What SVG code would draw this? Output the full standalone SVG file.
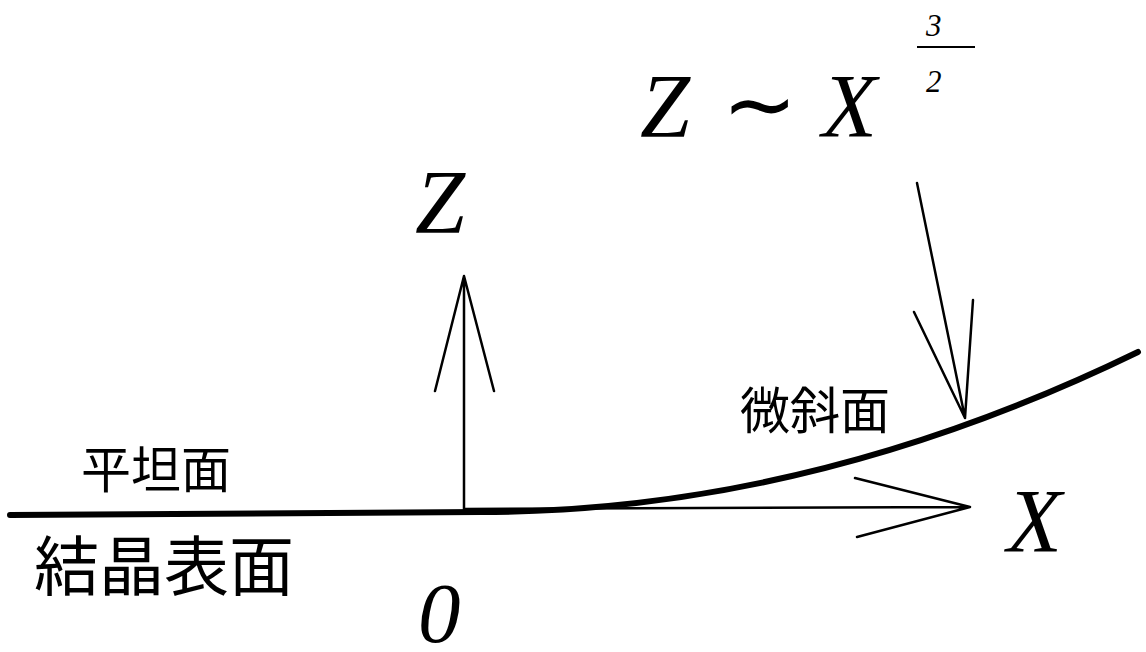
<svg xmlns="http://www.w3.org/2000/svg" width="1146" height="652" viewBox="0 0 1146 652">
<style>
.m{font-family:"Liberation Serif","Times New Roman",serif;font-style:italic;fill:#000}
.j{font-family:"Noto Sans CJK JP","Noto Sans CJK SC",sans-serif;fill:#000}
.ln{stroke:#000;fill:none;stroke-linecap:round;stroke-linejoin:round}
</style>
<rect width="1146" height="652" fill="#fff"/>
<g id="connectors">
<path id="x-axis" class="ln" stroke-width="2.5" d="M465,509 L970,507 M855,478 L970,507 L857,537"/>
<path id="z-axis" class="ln" stroke-width="2.5" d="M464,512 L464,276 M435,391 L464,276 L494,391"/>
<path id="pointer" class="ln" stroke-width="2.5" d="M917,183 L965,418 M914,312 L965,418 L973,300"/>
</g>
<g id="surface">
<path class="ln" stroke-width="6" stroke-linecap="butt" d="M10,515 L480,512 Q809,512 1138,352"/>
</g>
<g id="label-flat"><text class="j" x="81" y="488" font-size="50">平坦面</text></g>
<g id="label-crystal"><text class="j" x="34" y="590" font-size="65">結晶表面</text></g>
<g id="label-vicinal"><text class="j" x="740" y="429" font-size="50">微斜面</text></g>
<g id="label-z"><text class="m" x="415" y="233" font-size="90">Z</text></g>
<g id="label-x"><text class="m" x="1007" y="552" font-size="90">X</text></g>
<g id="label-0"><text class="m" x="418" y="642" font-size="85">0</text></g>
<g id="formula">
<text class="m" x="640" y="137" font-size="90">Z</text>
<text x="722" y="135" font-size="90" font-family="DejaVu Sans,sans-serif">∼</text>
<text class="m" x="822" y="137" font-size="90">X</text>
<text class="m" x="926" y="36" font-size="31">3</text>
<line x1="917" y1="47" x2="975" y2="47" stroke="#000" stroke-width="2"/>
<text class="m" x="926" y="92" font-size="31">2</text>
</g>
</svg>
